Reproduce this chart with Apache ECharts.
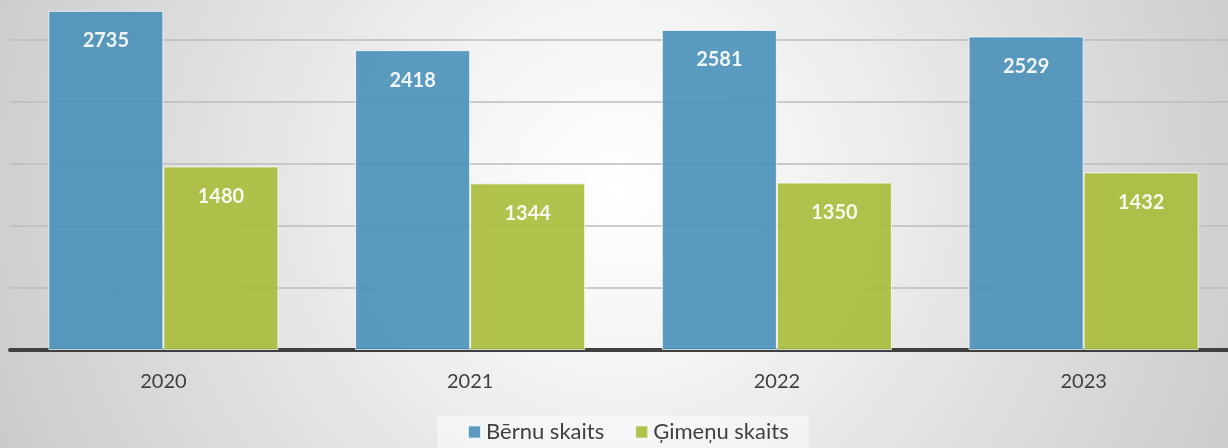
<!DOCTYPE html>
<html>
<head>
<meta charset="UTF-8">
<title>Bērnu un ģimeņu skaits</title>
<script src="https://cdn.jsdelivr.net/npm/echarts@6/dist/echarts.min.js"></script>
<style>
  html, body { margin: 0; padding: 0; overflow: hidden; }
  /* grafiks ir nedaudz lielāks par logu, augša un labā mala nogriezta */
  #main { width: 1237px; height: 470px; margin-top: -22px; }
</style>
</head>
<body>
<div id="main"></div>
<script type="text/javascript">
    // dati
    var years = ['2020', '2021', '2022', '2023'];
    var berni = [2735, 2418, 2581, 2529];
    var gimenes = [1480, 1344, 1350, 1432];

    var myChart = echarts.init(document.getElementById('main'));

    var labelStyle = {
        show: true,
        position: 'insideTop',
        distance: 20,
        color: '#ffffff',
        fontFamily: 'Lato, "Open Sans", sans-serif',
        fontWeight: 'bold',
        fontSize: 20
    };

    var option = {
        animation: false,
        graphic: [{
            type: 'rect',
            z: -10,
            silent: true,
            shape: { x: 0, y: 0, width: 1237, height: 470 },
            style: {
                fill: new echarts.graphic.RadialGradient(0.5, 0.45, 1.5, [
                    { offset: 0, color: '#ffffff' },
                    { offset: 0.25, color: '#f4f4f4' },
                    { offset: 1, color: '#c8c8c8' }
                ])
            }
        }],
        legend: {
            bottom: 0,
            left: 437,
            icon: 'rect',
            itemWidth: 13,
            itemHeight: 13,
            itemGap: 30,
            padding: [5, 20, 5, 30],
            backgroundColor: 'rgba(255,255,255,0.45)',
            textStyle: {
                color: '#404040',
                fontFamily: 'Lato, "Open Sans", sans-serif',
                fontSize: 22
            },
            data: ['Bērnu skaits', 'Ģimeņu skaits']
        },
        grid: {
            left: 10,
            right: 0,
            top: 0,
            bottom: 98,
            containLabel: false
        },
        xAxis: {
            type: 'category',
            data: years,
            axisTick: { show: false },
            axisLine: { lineStyle: { color: '#404040', width: 4 } },
            axisLabel: {
                margin: 22,
                color: '#404040',
                fontFamily: 'Lato, "Open Sans", sans-serif',
                fontSize: 20
            }
        },
        yAxis: {
            type: 'value',
            min: 0,
            max: 3000,
            interval: 500,
            axisLabel: { show: false },
            axisLine: { show: false },
            axisTick: { show: false },
            splitLine: { lineStyle: { color: '#bdbdbd', width: 1.5 } }
        },
        series: [
            {
                name: 'Bērnu skaits',
                type: 'bar',
                data: berni,
                barGap: '0%',
                barCategoryGap: '25%',
                itemStyle: {
                    color: '#4a90b9',
                    opacity: 0.9,
                    borderColor: 'rgba(255,255,255,0.8)',
                    borderWidth: 1
                },
                label: labelStyle
            },
            {
                name: 'Ģimeņu skaits',
                type: 'bar',
                data: gimenes,
                itemStyle: {
                    color: '#a8bb3a',
                    opacity: 0.9,
                    borderColor: 'rgba(255,255,255,0.8)',
                    borderWidth: 1
                },
                label: labelStyle
            }
        ]
    };

    myChart.setOption(option);
</script>
</body>
</html>
